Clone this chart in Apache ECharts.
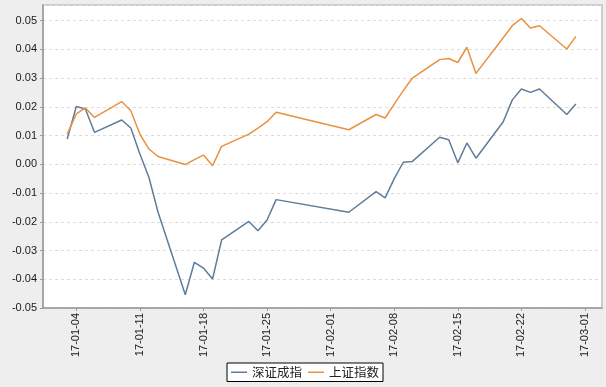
<!DOCTYPE html>
<html>
<head>
<meta charset="utf-8">
<script src="https://cdn.jsdelivr.net/npm/echarts@6/dist/echarts.min.js"></script>
<style>
html,body{margin:0;padding:0;background:#eeeeee;}
#main{width:606px;height:387px;}
</style>
</head>
<body>
<div id="main"></div>
<script>
var dates = ['2017-01-03','2017-01-04','2017-01-05','2017-01-06','2017-01-09','2017-01-10','2017-01-11','2017-01-12','2017-01-13',
  '2017-01-16','2017-01-17','2017-01-18','2017-01-19','2017-01-20','2017-01-23','2017-01-24','2017-01-25','2017-01-26',
  '2017-02-03','2017-02-06','2017-02-07','2017-02-08','2017-02-09','2017-02-10','2017-02-13','2017-02-14','2017-02-15',
  '2017-02-16','2017-02-17','2017-02-20','2017-02-21','2017-02-22','2017-02-23','2017-02-24','2017-02-27','2017-02-28'];
var szcz = [0.0088,0.0201,0.0192,0.0111,0.0154,0.0126,0.0036,-0.0046,-0.0167,
  -0.0454,-0.0341,-0.0361,-0.0399,-0.0263,-0.0199,-0.0231,-0.0194,-0.0123,
  -0.0167,-0.0095,-0.0117,-0.0050,0.0007,0.0010,0.0094,0.0085,0.0005,
  0.0074,0.0021,0.0148,0.0224,0.0262,0.0250,0.0262,0.0173,0.0210];
var shzs = [0.0105,0.0175,0.0196,0.0163,0.0218,0.0186,0.0105,0.0053,0.0027,
  -0.0001,0.0016,0.0032,-0.0005,0.0062,0.0105,0.0126,0.0148,0.0181,
  0.0120,0.0173,0.0161,0.0209,0.0256,0.0300,0.0364,0.0368,0.0354,
  0.0407,0.0316,0.0440,0.0482,0.0507,0.0474,0.0482,0.0401,0.0445];
var seriesNames = ['深证成指','上证指数'];
var tickDates = ['2017-01-04','2017-01-11','2017-01-18','2017-01-25','2017-02-01','2017-02-08','2017-02-15','2017-02-22','2017-03-01'];
var xRange = ['2016-12-31 08:00','2017-03-02 21:00'];
var yMin = -0.05, yMax = 0.0554, yStep = 0.01;

function toTime(s){
  var p = s.split(/[- :]/).map(Number);
  return new Date(p[0], p[1]-1, p[2], p[3]||0, p[4]||0).getTime();
}
function pad(n){return (n<10?'0':'')+n;}
var tickVals = tickDates.map(toTime);

var chart = echarts.init(document.getElementById('main'), null, {renderer:'canvas'});
chart.setOption({
  backgroundColor: '#eeeeee',
  animation: false,
  grid: {left: 43, top: 5, right: 4, bottom: 79, show: true, backgroundColor: '#ffffff', borderColor: '#cccccc', borderWidth: 2},
  legend: {
    data: seriesNames,
    left: 227, top: 363,
    orient: 'horizontal',
    icon: 'rect',
    borderColor: '#000', borderWidth: 1, borderRadius: 0,
    padding: [3, 4, 3, 4],
    itemGap: 6, itemWidth: 16, itemHeight: 1.5,
    backgroundColor: '#ffffff',
    textStyle: {fontFamily: 'Noto Sans CJK SC', fontSize: 12.5, color: '#222', padding: [0, 0, 0, 0]}
  },
  xAxis: {
    type: 'value',
    min: toTime(xRange[0]), max: toTime(xRange[1]),
    splitLine: {show: false},
    axisLine: {onZero: false, lineStyle: {color: '#999', width: 1.5}},
    axisTick: {show: true, length: 3, lineStyle: {color: '#999'}, customValues: tickVals},
    axisLabel: {
      customValues: tickVals,
      rotate: 90, margin: 5,
      fontFamily: 'Liberation Sans', fontSize: 11, color: '#222',
      formatter: function(v){ var d = new Date(v); return pad(d.getFullYear()%100)+'-'+pad(d.getMonth()+1)+'-'+pad(d.getDate()); }
    }
  },
  yAxis: {
    type: 'value',
    min: yMin, max: yMax, interval: yStep,
    axisLine: {show: true, lineStyle: {color: '#999', width: 1.5}},
    axisTick: {show: true, length: 3, lineStyle: {color: '#999'}},
    splitLine: {show: true, lineStyle: {color: '#dddddd', type: [3, 3], width: 1}},
    axisLabel: {
      showMaxLabel: false, margin: 6,
      fontFamily: 'Liberation Sans', fontSize: 11, color: '#1a1a1a',
      formatter: function(v){ return v.toFixed(2); }
    }
  },
  series: [
    {name: seriesNames[0], type: 'line', symbol: 'none', data: dates.map(function(d,i){return [toTime(d), szcz[i]];}),
     lineStyle: {color: '#5d7d9a', width: 1.5}, itemStyle: {color: '#5d7d9a'}},
    {name: seriesNames[1], type: 'line', symbol: 'none', data: dates.map(function(d,i){return [toTime(d), shzs[i]];}),
     lineStyle: {color: '#e8913f', width: 1.5}, itemStyle: {color: '#e8913f'}}
  ]
});
</script>
</body>
</html>
